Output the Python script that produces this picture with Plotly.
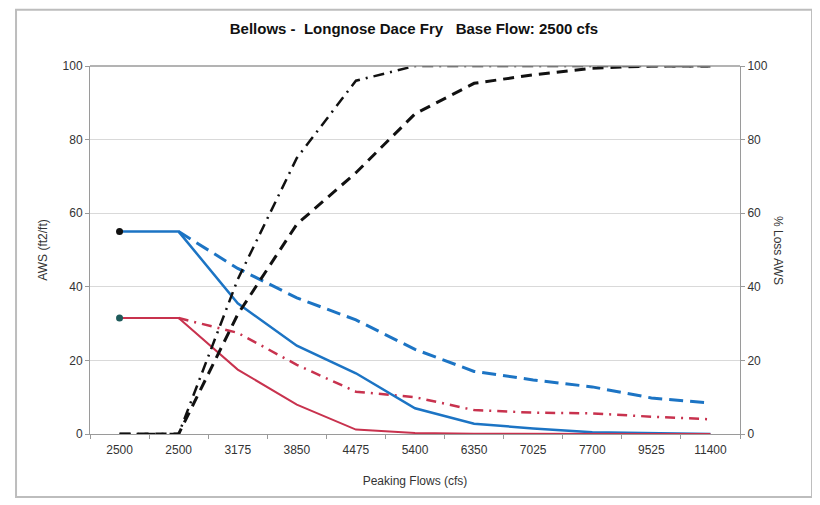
import plotly.graph_objects as go

categories = ["2500", "2500", "3175", "3850", "4475", "5400", "6350", "7025", "7700", "9525", "11400"]

aws_base = [55, 55, 35.5, 24, 16.5, 7, 2.8, 1.5, 0.5, 0.2, 0]
aws_alt = [None, 55, 45, 37, 31, 23, 17, 14.7, 12.8, 9.8, 8.4]
aws_red_base = [31.5, 31.5, 17.5, 8, 1.2, 0.3, 0.1, 0, 0, 0, 0]
aws_red_alt = [None, 31.5, 27.5, 18.8, 11.5, 10, 6.5, 5.8, 5.6, 4.7, 4]
loss_dashdot = [0, 0, 42, 75, 96, 100, 100, 100, 100, 100, 100]
loss_dash = [0, 0, 32.5, 57, 71, 87, 95.3, 97.6, 99.4, 100, 100]

title_text = "Bellows -  Longnose Dace Fry   Base Flow: 2500 cfs"

x = list(range(len(categories)))
FONT = "Liberation Sans, Arial, sans-serif"

fig = go.Figure()

BLUE = "#1C74C4"
RED = "#C8324E"

fig.add_trace(go.Scatter(x=x, y=aws_alt, mode="lines",
                         line=dict(color=BLUE, width=3, dash="14px,7px"), yaxis="y"))
fig.add_trace(go.Scatter(x=x, y=aws_red_alt, mode="lines",
                         line=dict(color=RED, width=2.5, dash="10px,6px,2px,6px"), yaxis="y"))
fig.add_trace(go.Scatter(x=x, y=aws_base, mode="lines",
                         line=dict(color=BLUE, width=2.5), yaxis="y"))
fig.add_trace(go.Scatter(x=x, y=aws_red_base, mode="lines",
                         line=dict(color=RED, width=2), yaxis="y"))
fig.add_trace(go.Scatter(x=x, y=loss_dashdot, mode="lines",
                         line=dict(color="#111111", width=2.5, dash="11px,6px,2px,6px"), yaxis="y2"))
fig.add_trace(go.Scatter(x=x, y=loss_dash, mode="lines",
                         line=dict(color="#111111", width=3, dash="11px,7px"), yaxis="y2"))
# base points
fig.add_trace(go.Scatter(x=[x[0]], y=[aws_base[0]], mode="markers",
                         marker=dict(color="#111111", size=7), yaxis="y"))
fig.add_trace(go.Scatter(x=[x[0]], y=[aws_red_base[0]], mode="markers",
                         marker=dict(color="#1E5A5A", size=7), yaxis="y"))

fig.update_layout(
    width=812, height=497,
    margin=dict(l=82, r=80, t=58, b=71),
    paper_bgcolor="white", plot_bgcolor="white",
    showlegend=False,
    font=dict(family=FONT, size=12, color="#333333"),
    title=dict(text="<b>" + title_text + "</b>", x=0.5, xanchor="center", y=0.958, yanchor="middle",
               font=dict(family=FONT, size=15, color="#111111")),
    xaxis=dict(
        range=[-0.5, len(categories) - 0.5],
        tickmode="array", tickvals=x, ticktext=categories,
        showgrid=False, zeroline=False,
        showline=True, linecolor="#9a9a9a", linewidth=1,
        ticks="", ticklabelstandoff=5,
        minor=dict(tickmode="array", tickvals=[i - 0.5 for i in range(len(categories) + 1)],
                   ticks="outside", ticklen=4, tickcolor="#9a9a9a", showgrid=False),
        tickfont=dict(size=12, color="#333333"),
        title=dict(text="Peaking Flows (cfs)", font=dict(size=12, color="#333333"), standoff=20),
    ),
    yaxis=dict(
        range=[0, 100], tickvals=[0, 20, 40, 60, 80, 100],
        showgrid=True, gridcolor="#d9d9d9", gridwidth=1,
        zeroline=False, showline=True, linecolor="#9a9a9a", linewidth=1,
        ticks="outside", ticklen=4, tickcolor="#9a9a9a",
        tickfont=dict(size=12, color="#333333"),
        title=dict(text="AWS (ft2/ft)", font=dict(size=12, color="#333333"), standoff=12),
    ),
    yaxis2=dict(
        range=[0, 100], tickvals=[0, 20, 40, 60, 80, 100],
        overlaying="y", side="right",
        showgrid=False, zeroline=False,
        showline=True, linecolor="#9a9a9a", linewidth=1,
        ticks="outside", ticklen=4, tickcolor="#9a9a9a",
        tickfont=dict(size=12, color="#333333"),
    ),
)

fig.add_annotation(text="% Loss AWS", xref="paper", yref="paper", x=1.0, xshift=47, y=0.5,
                   textangle=90, showarrow=False, font=dict(size=12, color="#333333"))

# top gridline slightly darker
fig.add_shape(type="line", xref="paper", yref="paper", x0=0, x1=1, y0=1, y1=1,
              line=dict(color="#9a9a9a", width=1.5))
# outer chart frame
fig.add_shape(type="rect", xref="paper", yref="paper", x0=-0.1138, x1=1.1108, y0=-0.171, y1=1.153,
              line=dict(color="#bdbdbd", width=2), layer="below")

fig.write_html("out.html")
